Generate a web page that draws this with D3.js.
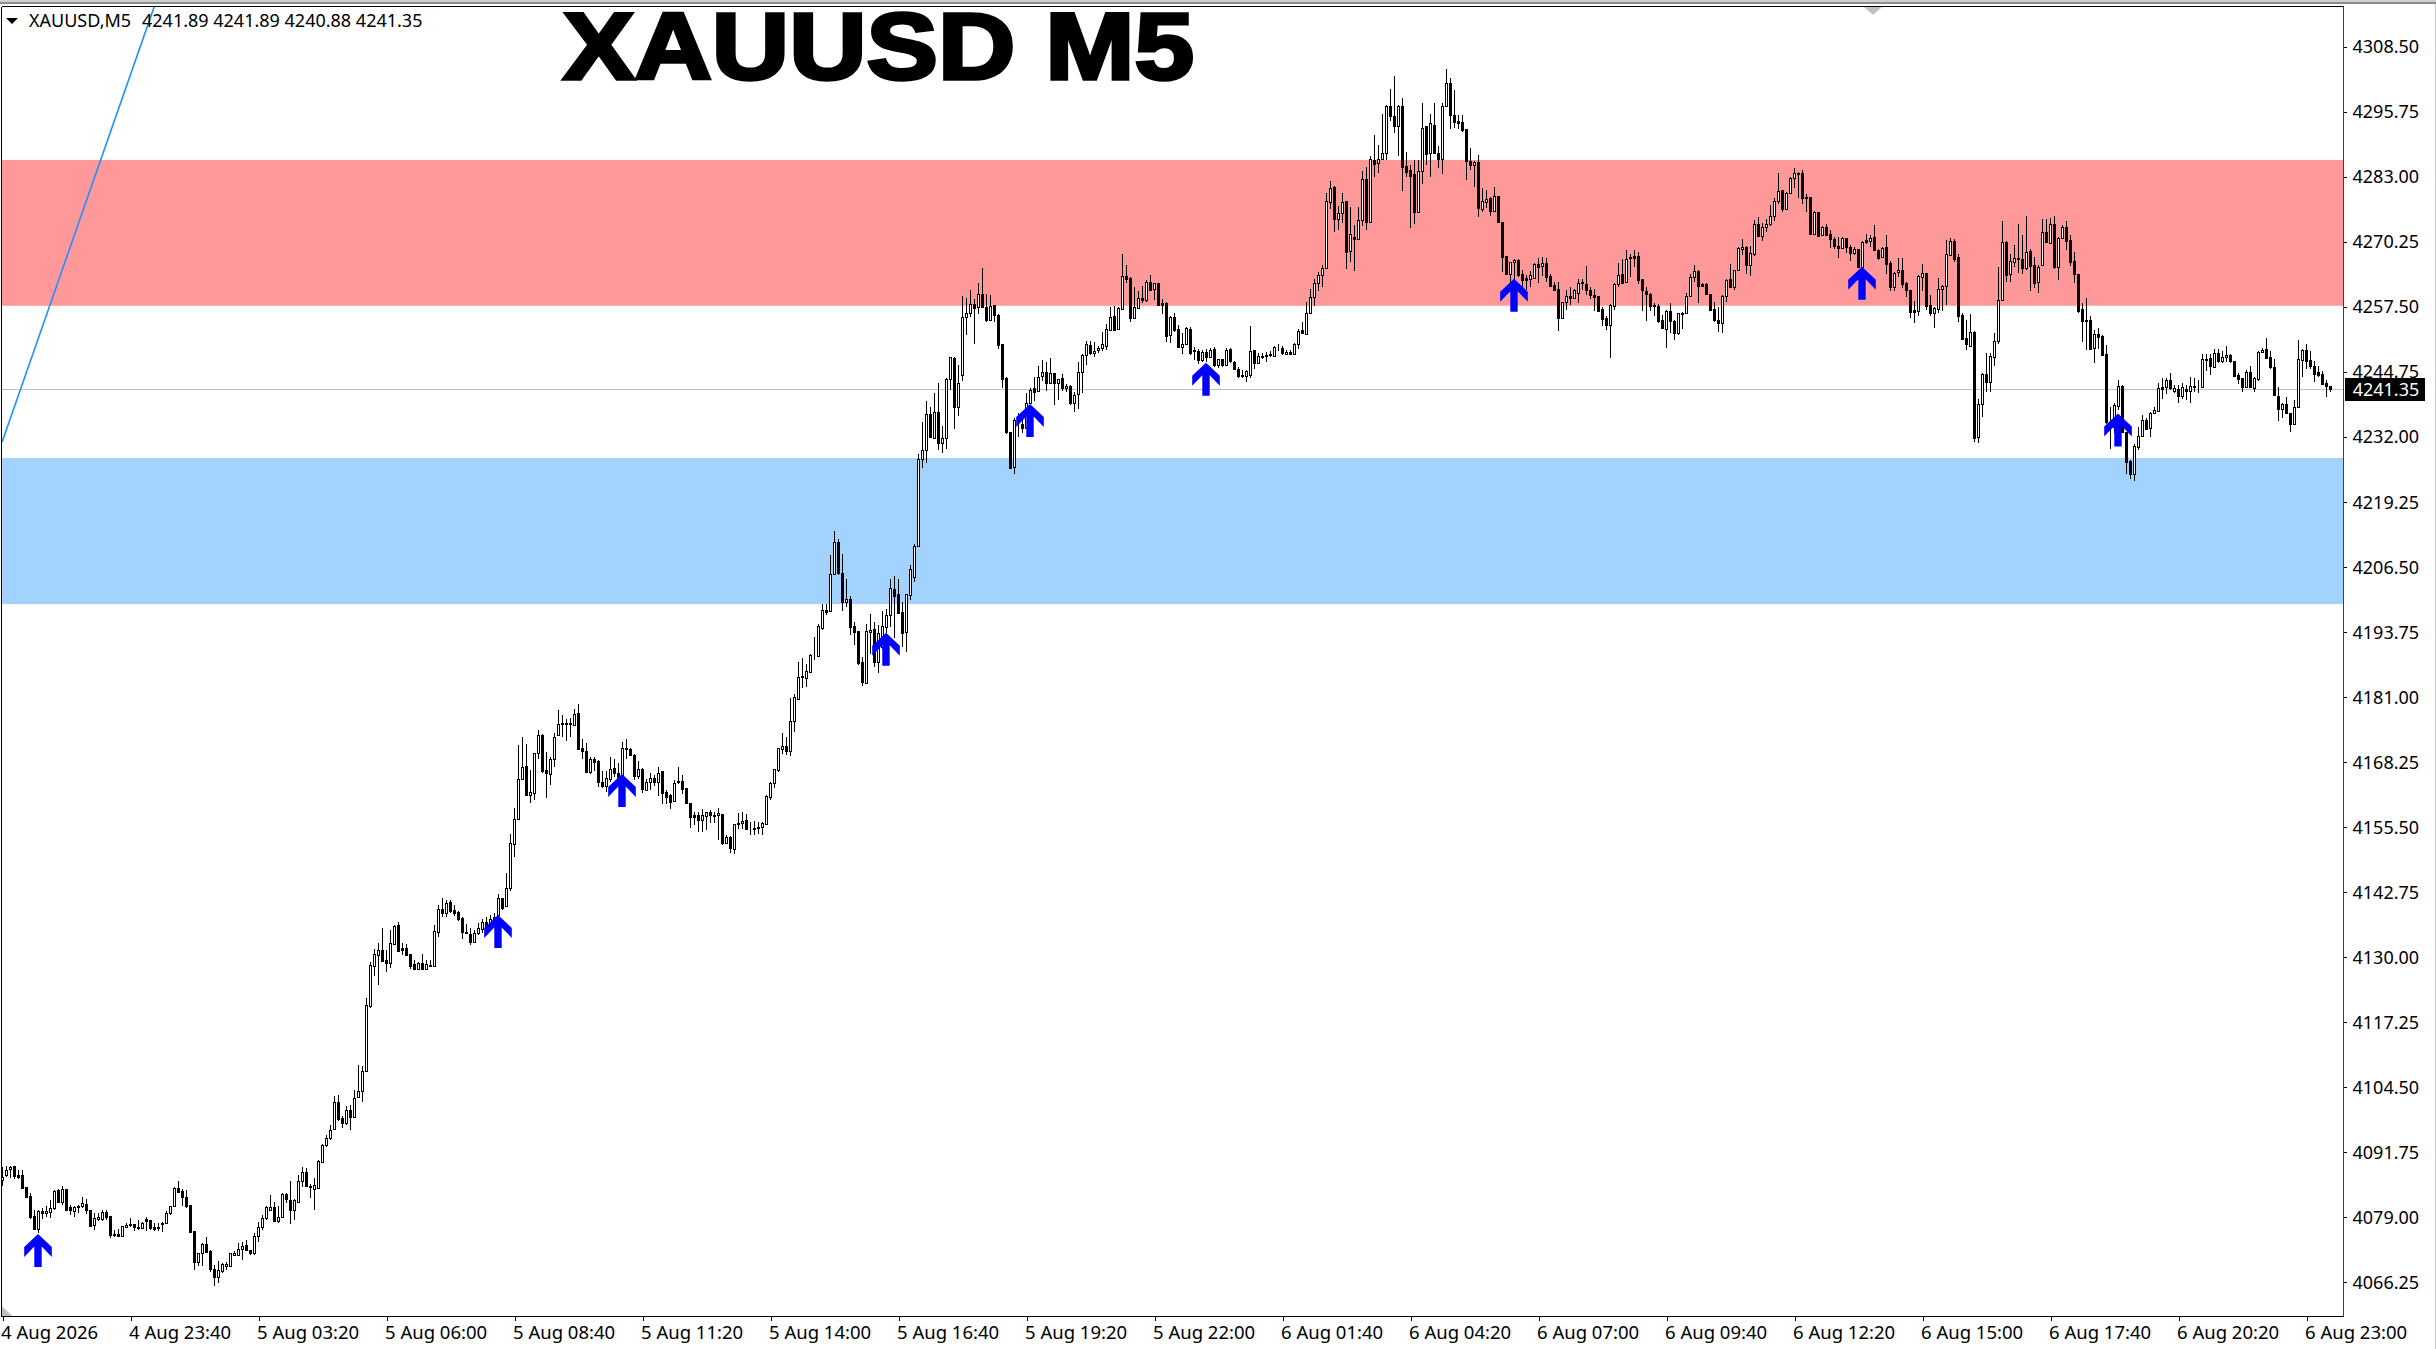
<!DOCTYPE html>
<html><head><meta charset="utf-8">
<style>html,body{margin:0;padding:0;background:#fff;overflow:hidden}svg{display:block}text{font-family:"Noto Sans",sans-serif}</style>
<script src="https://cdn.jsdelivr.net/npm/d3@7"></script></head><body><svg id="c" width="2436" height="1349"></svg>
<script>
const symbolTitle="XAUUSD M5";
const headerName="XAUUSD,M5";
const headerOHLC="4241.89 4241.89 4240.88 4241.35";
const lastPrice=4241.35;
const priceTicks=[4308.5,4295.75,4283,4270.25,4257.5,4244.75,4232,4219.25,4206.5,4193.75,4181,4168.25,4155.5,4142.75,4130,4117.25,4104.5,4091.75,4079,4066.25];
const timeLabels=["4 Aug 2026","4 Aug 23:40","5 Aug 03:20","5 Aug 06:00","5 Aug 08:40","5 Aug 11:20","5 Aug 14:00","5 Aug 16:40","5 Aug 19:20","5 Aug 22:00","6 Aug 01:40","6 Aug 04:20","6 Aug 07:00","6 Aug 09:40","6 Aug 12:20","6 Aug 15:00","6 Aug 17:40","6 Aug 20:20","6 Aug 23:00"];
const barsPerLabel=32;
const supplyZone=[4286.3,4257.7];
const demandZone=[4227.85,4199.2];
const arrowBars=[9,124,155,221,257,301,378,465,529];
const arrowPrices=[4075.7,4138.25,4165.9,4193.6,4238.44,4246.54,4263.0,4265.36,4236.6];
const trendBars=[-0.1,38];
const trendPrices=[4231.0,4316.5];
const highs=[
4088.9,4089.0,4089.0,4089.0,4088.3,4088.3,4085.0,4083.7,4080.4,4080.5,
4080.7,4081.2,4082.4,4084.3,4084.5,4085.1,4084.6,4081.4,4081.2,4081.4,
4083.0,4082.5,4080.5,4079.8,4079.8,4080.4,4080.4,4079.2,4076.5,4076.6,
4077.3,4077.9,4078.8,4077.6,4078.5,4078.1,4079.0,4078.5,4077.8,4077.9,
4078.1,4080.2,4081.2,4085.0,4086.1,4084.5,4084.3,4081.4,4076.3,4072.0,
4074.0,4075.1,4072.6,4069.6,4070.4,4070.1,4070.3,4071.9,4072.4,4073.9,
4074.2,4074.5,4072.6,4075.8,4078.1,4079.4,4081.2,4083.4,4081.9,4081.2,
4083.7,4083.7,4086.0,4082.5,4087.3,4088.8,4088.6,4085.5,4086.6,4090.3,
4093.4,4095.1,4097.0,4102.7,4102.9,4098.8,4100.8,4101.0,4103.9,4108.8,
4108.6,4122.0,4129.0,4131.5,4132.7,4135.6,4131.4,4135.4,4136.3,4136.8,
4132.8,4132.5,4130.6,4129.4,4129.1,4130.6,4129.4,4129.4,4136.3,4140.2,
4141.5,4141.2,4141.2,4140.2,4139.1,4137.8,4136.5,4135.6,4135.4,4136.6,
4137.4,4137.9,4138.2,4138.6,4142.4,4141.5,4146.5,4154.2,4159.3,4171.6,
4173.1,4171.8,4166.7,4170.1,4174.5,4173.7,4170.3,4169.3,4174.0,4178.4,
4177.4,4176.6,4176.8,4178.6,4179.6,4172.8,4171.9,4169.3,4169.3,4168.6,
4166.5,4166.5,4169.3,4168.9,4168.0,4172.1,4172.7,4170.9,4169.8,4168.4,
4167.0,4165.0,4166.0,4165.7,4167.2,4166.4,4162.7,4161.9,4164.7,4167.2,
4165.6,4163.1,4160.3,4158.5,4158.5,4159.1,4158.4,4158.9,4158.4,4159.3,
4158.0,4154.0,4153.7,4156.1,4158.2,4158.5,4158.0,4156.5,4156.7,4156.5,
4156.5,4161.8,4164.4,4166.8,4170.9,4174.0,4173.2,4180.7,4181.6,4187.8,
4188.6,4187.4,4189.4,4192.7,4195.4,4199.3,4199.3,4208.8,4213.5,4211.9,
4209.1,4204.2,4200.8,4195.7,4193.9,4188.8,4195.3,4197.2,4195.7,4195.1,
4197.8,4198.2,4204.1,4204.7,4204.2,4199.7,4201.1,4206.9,4211.0,4228.6,
4234.9,4239.0,4237.9,4240.6,4242.5,4234.1,4243.6,4247.7,4247.6,4246.1,
4259.6,4259.3,4260.8,4259.1,4262.1,4265.2,4260.0,4259.8,4257.8,4256.0,
4250.3,4243.7,4233.0,4235.6,4236.6,4235.9,4240.5,4241.6,4243.8,4245.9,
4247.0,4246.7,4247.4,4244.6,4243.4,4244.3,4242.3,4242.1,4240.8,4246.6,
4248.2,4250.7,4250.8,4250.6,4249.9,4252.5,4254.2,4257.4,4257.6,4257.5,
4267.8,4265.7,4263.3,4261.4,4260.6,4261.6,4262.7,4263.7,4262.2,4262.2,
4259.1,4258.4,4255.7,4256.2,4253.9,4252.3,4253.6,4253.5,4249.7,4249.3,
4249.0,4249.3,4249.5,4249.7,4247.3,4247.3,4249.5,4249.4,4246.9,4245.7,
4245.1,4245.1,4253.7,4249.1,4248.4,4248.4,4248.7,4248.8,4249.8,4250.3,
4249.8,4249.0,4249.1,4250.4,4253.1,4254.6,4258.5,4261.0,4262.9,4264.3,
4265.6,4279.8,4282.2,4281.1,4277.3,4279.8,4278.2,4277.1,4273.5,4277.0,
4284.2,4285.0,4287.0,4291.2,4289.2,4295.4,4297.1,4300.3,4302.8,4297.1,
4298.4,4287.9,4285.3,4286.2,4286.3,4297.5,4293.0,4295.4,4297.5,4289.0,
4297.4,4304.1,4302.3,4300.1,4295.1,4295.1,4292.3,4288.6,4286.0,4287.3,
4280.7,4280.4,4279.0,4280.9,4279.2,4274.1,4267.5,4266.3,4266.8,4266.8,
4264.7,4263.7,4264.6,4266.0,4267.0,4267.2,4267.1,4263.9,4262.3,4262.4,
4258.5,4260.8,4261.3,4260.9,4262.9,4262.9,4265.5,4261.4,4260.9,4259.6,
4257.5,4255.6,4258.0,4262.1,4266.0,4266.8,4268.6,4267.9,4268.6,4268.3,
4263.0,4261.4,4260.3,4258.3,4258.0,4255.9,4256.9,4258.2,4254.9,4256.3,
4256.5,4260.3,4263.9,4265.7,4264.8,4262.2,4262.1,4260.1,4258.5,4257.4,
4259.8,4262.9,4265.9,4264.8,4269.2,4270.7,4269.4,4269.4,4274.5,4275.2,
4274.0,4274.8,4277.5,4278.9,4283.8,4280.5,4280.0,4283.0,4284.8,4284.0,
4284.3,4279.6,4279.1,4276.2,4276.1,4273.3,4273.7,4272.5,4271.1,4271.1,
4271.1,4270.9,4269.6,4269.2,4268.9,4270.5,4271.8,4271.6,4273.5,4268.8,
4269.3,4271.6,4266.5,4264.4,4267.1,4267.0,4262.4,4260.8,4258.7,4263.7,
4265.9,4264.2,4259.8,4257.4,4263.1,4261.8,4270.6,4270.9,4270.7,4267.8,
4256.2,4254.9,4256.1,4252.7,4239.5,4244.6,4248.4,4248.5,4252.3,4265.4,
4274.3,4270.5,4267.9,4269.6,4273.7,4271.6,4275.3,4268.9,4267.3,4265.6,
4274.8,4274.8,4274.9,4275.3,4271.1,4273.5,4274.4,4271.6,4268.3,4264.0,
4258.3,4259.3,4255.6,4252.9,4253.3,4251.9,4250.1,4237.9,4238.6,4243.1,
4242.2,4233.0,4227.4,4230.6,4234.0,4236.2,4235.6,4236.9,4237.9,4242.5,
4243.5,4243.5,4244.6,4242.1,4242.1,4242.5,4242.1,4243.8,4243.5,4243.1,
4248.2,4248.2,4248.2,4249.2,4249.3,4248.9,4249.8,4248.2,4246.8,4244.6,
4243.6,4245.1,4245.9,4243.7,4248.9,4249.4,4251.3,4248.9,4247.2,4241.8,
4238.7,4239.9,4236.7,4239.2,4250.9,4249.2,4250.2,4248.9,4246.9,4245.8,
4245.0,4243.1,4241.89];
const lows=[
4085.1,4086.9,4086.6,4086.4,4086.4,4084.5,4083.0,4078.6,4076.4,4075.8,
4078.6,4079.1,4078.8,4080.4,4081.9,4081.4,4080.5,4079.4,4079.0,4079.8,
4080.7,4079.6,4077.0,4076.4,4078.3,4078.3,4078.5,4074.9,4075.1,4075.1,
4075.4,4077.0,4077.0,4076.2,4076.4,4076.6,4076.2,4076.5,4076.2,4076.2,
4076.0,4077.7,4079.4,4080.9,4083.8,4081.2,4080.7,4076.0,4068.6,4069.4,
4069.4,4072.0,4068.3,4065.5,4066.0,4068.0,4068.6,4069.4,4071.4,4071.4,
4070.6,4072.4,4071.6,4071.6,4074.2,4076.4,4078.5,4080.4,4078.1,4077.9,
4078.8,4081.7,4077.7,4078.5,4082.0,4085.0,4085.0,4082.7,4080.4,4084.5,
4089.6,4092.8,4094.1,4096.2,4097.8,4096.5,4097.1,4096.1,4098.6,4102.5,
4101.6,4107.7,4120.1,4126.3,4124.5,4129.0,4127.1,4127.8,4132.4,4130.9,
4130.4,4130.2,4127.7,4127.6,4127.5,4127.6,4127.6,4128.0,4128.2,4134.0,
4137.9,4137.8,4138.7,4138.0,4137.1,4133.6,4134.5,4132.3,4132.8,4134.3,
4134.8,4135.6,4136.3,4136.7,4138.0,4139.3,4139.9,4143.0,4149.7,4156.9,
4165.0,4161.6,4160.3,4160.8,4168.9,4166.1,4161.1,4163.7,4167.2,4173.3,
4173.1,4172.4,4173.2,4175.3,4170.6,4168.9,4166.3,4165.9,4166.5,4163.4,
4163.1,4162.4,4164.4,4165.4,4165.0,4165.7,4168.9,4169.4,4164.8,4165.0,
4162.2,4162.6,4162.7,4163.5,4161.6,4160.0,4160.0,4159.1,4160.4,4164.0,
4161.9,4160.0,4155.3,4155.9,4154.6,4154.6,4155.0,4156.3,4156.2,4153.0,
4151.9,4152.1,4150.4,4150.2,4155.2,4155.2,4154.9,4153.9,4154.0,4154.2,
4153.9,4155.9,4160.8,4163.1,4166.3,4169.8,4169.6,4169.4,4174.2,4180.6,
4182.8,4183.0,4185.7,4188.2,4188.9,4194.1,4197.1,4197.7,4205.2,4205.0,
4197.9,4198.6,4193.1,4191.2,4187.2,4183.2,4183.8,4189.5,4186.9,4185.7,
4190.5,4193.5,4194.8,4192.6,4197.2,4190.8,4189.9,4200.1,4203.6,4210.4,
4225.8,4226.8,4231.7,4231.5,4229.5,4228.9,4229.7,4241.2,4233.5,4236.1,
4243.0,4252.0,4255.5,4250.2,4256.1,4257.2,4254.6,4254.9,4254.6,4249.3,
4241.5,4232.5,4225.7,4224.8,4232.0,4232.7,4233.8,4238.7,4239.1,4240.8,
4243.0,4241.0,4242.3,4238.2,4239.2,4241.0,4240.8,4238.2,4236.9,4237.4,
4240.6,4246.1,4248.0,4247.6,4248.5,4248.9,4249.1,4252.8,4252.8,4252.9,
4257.0,4262.1,4254.6,4255.2,4257.0,4258.2,4258.5,4260.6,4258.8,4257.6,
4256.1,4250.6,4250.4,4252.6,4249.5,4248.2,4250.0,4248.0,4247.0,4246.3,
4246.7,4246.7,4247.6,4245.6,4245.5,4245.6,4245.9,4246.5,4245.1,4243.6,
4243.6,4242.8,4243.6,4245.3,4246.3,4247.2,4246.7,4247.6,4247.7,4248.9,
4248.0,4248.0,4248.0,4248.0,4249.2,4252.2,4252.0,4256.1,4257.6,4260.5,
4261.3,4265.0,4276.6,4272.2,4272.6,4273.9,4265.0,4266.3,4264.6,4270.6,
4273.3,4272.6,4273.9,4283.0,4283.8,4286.2,4286.2,4294.0,4291.6,4287.0,
4280.3,4283.0,4273.0,4273.7,4276.0,4281.6,4285.3,4283.0,4287.5,4284.8,
4283.5,4296.9,4292.3,4292.5,4292.3,4291.8,4282.4,4284.3,4280.9,4275.2,
4276.1,4276.8,4275.3,4276.1,4274.0,4264.3,4263.7,4262.4,4262.1,4263.4,
4260.8,4260.7,4261.3,4263.0,4262.2,4263.5,4262.4,4261.4,4260.5,4252.8,
4255.2,4256.9,4257.9,4259.0,4258.3,4260.7,4259.8,4259.0,4256.7,4256.5,
4253.7,4253.0,4247.4,4256.9,4261.3,4262.0,4262.2,4263.4,4265.4,4261.9,
4256.7,4254.8,4256.7,4255.6,4254.4,4253.1,4249.5,4252.3,4251.0,4252.0,
4253.1,4256.0,4259.5,4262.4,4258.3,4261.3,4259.8,4256.7,4254.6,4252.6,
4252.4,4258.5,4261.3,4260.7,4264.6,4267.6,4263.9,4263.5,4267.5,4271.1,
4270.5,4272.2,4273.3,4274.4,4277.6,4276.1,4276.5,4279.7,4280.7,4278.8,
4277.6,4276.1,4271.6,4271.6,4271.2,4271.5,4271.4,4269.1,4268.9,4267.1,
4268.9,4268.0,4266.5,4267.6,4265.2,4265.2,4269.8,4269.3,4268.5,4266.7,
4267.0,4264.0,4260.6,4260.6,4263.4,4261.1,4259.5,4255.4,4254.4,4255.6,
4260.5,4256.9,4255.6,4253.4,4256.2,4256.7,4257.8,4267.5,4266.3,4254.6,
4251.1,4249.0,4249.7,4231.0,4230.8,4235.9,4240.8,4240.8,4245.8,4250.2,
4258.7,4262.4,4262.4,4265.4,4264.2,4263.9,4264.8,4260.6,4261.1,4260.3,
4265.5,4270.1,4269.9,4265.0,4262.7,4270.7,4268.6,4265.5,4262.1,4256.2,
4250.6,4249.0,4249.1,4246.5,4249.3,4247.8,4234.6,4229.7,4232.7,4237.3,
4232.7,4224.7,4223.7,4223.4,4229.4,4231.9,4233.5,4231.9,4236.5,4237.0,
4239.5,4240.4,4241.2,4240.5,4238.7,4239.5,4239.2,4238.6,4240.7,4240.5,
4241.8,4245.0,4244.1,4245.5,4246.4,4246.4,4246.7,4246.5,4243.7,4242.4,
4240.7,4241.6,4241.6,4240.7,4243.0,4248.4,4247.3,4245.4,4240.1,4235.2,
4235.6,4236.5,4233.0,4234.5,4237.6,4243.8,4245.4,4245.4,4242.7,4243.8,
4242.2,4239.9,4240.88];
const opens=[
4086.3,4087.2,4088.4,4089.0,4087.3,4087.3,4085.0,4083.2,4079.2,4076.6,
4080.2,4079.8,4080.1,4080.7,4084.3,4081.9,4084.5,4080.9,4080.2,4081.2,
4081.1,4081.6,4080.5,4077.5,4078.6,4078.6,4080.0,4079.2,4075.5,4075.6,
4075.4,4077.1,4077.5,4077.6,4077.1,4076.8,4078.6,4078.5,4077.0,4076.8,
4077.6,4077.9,4079.9,4081.1,4084.7,4084.2,4082.9,4081.4,4076.3,4070.3,
4071.9,4073.7,4072.4,4068.8,4067.3,4068.5,4069.4,4069.4,4071.6,4071.6,
4072.8,4073.5,4072.6,4071.9,4075.3,4077.0,4078.8,4080.4,4080.9,4078.3,
4079.1,4083.5,4082.4,4080.4,4082.0,4086.0,4087.9,4085.1,4084.6,4084.8,
4089.9,4093.1,4094.5,4096.2,4101.5,4098.4,4097.5,4100.1,4098.6,4102.5,
4103.8,4107.7,4120.4,4128.2,4130.5,4131.4,4129.4,4128.9,4132.5,4136.3,
4131.7,4131.7,4130.6,4128.6,4127.6,4128.8,4127.7,4128.3,4128.2,4135.0,
4139.5,4138.7,4140.7,4139.2,4138.8,4137.6,4135.0,4134.6,4133.0,4134.8,
4135.5,4136.8,4136.6,4136.9,4138.2,4141.5,4140.0,4143.5,4152.1,4157.0,
4165.0,4167.4,4161.7,4162.2,4170.0,4173.5,4166.7,4165.8,4168.8,4173.5,
4175.7,4175.7,4175.7,4175.5,4177.8,4170.9,4170.5,4166.3,4168.9,4168.4,
4164.4,4163.6,4165.0,4167.0,4166.1,4165.7,4170.9,4170.7,4169.7,4165.5,
4166.8,4162.7,4164.4,4165.2,4164.4,4166.4,4162.3,4161.8,4160.6,4164.6,
4164.6,4163.1,4160.3,4157.8,4157.8,4156.9,4157.7,4158.4,4157.8,4157.8,
4158.0,4152.4,4153.5,4151.2,4156.2,4156.3,4156.9,4155.4,4155.4,4155.5,
4155.5,4156.1,4161.4,4164.2,4166.7,4170.8,4171.4,4170.4,4176.2,4180.6,
4185.2,4184.8,4185.9,4189.1,4189.1,4194.6,4198.0,4197.8,4205.2,4211.3,
4205.4,4199.7,4200.3,4195.0,4193.9,4187.8,4183.8,4193.8,4194.3,4187.9,
4190.8,4194.8,4197.1,4202.1,4201.1,4197.6,4193.8,4201.0,4204.6,4210.6,
4227.7,4229.5,4236.4,4231.8,4236.8,4230.8,4231.7,4243.4,4247.4,4237.9,
4244.2,4255.5,4256.3,4258.0,4257.4,4260.1,4257.4,4255.0,4257.8,4255.9,
4250.2,4243.5,4233.0,4226.1,4235.4,4234.5,4233.8,4238.7,4241.5,4240.9,
4243.9,4244.8,4242.5,4244.6,4242.5,4243.5,4241.5,4242.0,4238.7,4240.4,
4244.8,4248.1,4250.1,4248.4,4249.1,4249.5,4249.9,4252.9,4255.7,4253.2,
4257.1,4263.6,4263.1,4255.4,4257.2,4259.3,4258.8,4262.3,4260.9,4262.1,
4258.2,4258.3,4251.9,4255.5,4253.1,4249.7,4250.2,4253.2,4249.0,4248.9,
4247.0,4248.7,4247.7,4249.3,4246.1,4247.2,4246.1,4249.3,4246.7,4245.3,
4244.1,4244.0,4244.2,4249.1,4246.4,4247.8,4247.9,4248.0,4247.8,4249.4,
4249.5,4248.2,4248.7,4248.2,4250.3,4252.9,4252.1,4256.2,4259.5,4262.2,
4263.7,4265.2,4278.1,4280.9,4274.8,4275.8,4278.2,4268.4,4271.2,4270.7,
4274.5,4282.5,4274.1,4286.2,4285.6,4286.4,4287.6,4296.9,4294.9,4293.0,
4296.9,4285.1,4284.3,4283.5,4276.1,4284.2,4293.0,4287.6,4293.1,4287.6,
4286.4,4296.9,4301.3,4295.2,4293.9,4293.7,4292.3,4286.0,4285.4,4285.9,
4276.7,4278.1,4278.8,4276.2,4279.2,4274.1,4267.5,4263.9,4266.2,4266.7,
4263.9,4263.1,4263.0,4263.1,4265.9,4265.5,4266.0,4263.5,4261.8,4260.9,
4255.4,4258.5,4259.7,4259.2,4260.3,4262.4,4262.0,4260.7,4259.9,4259.6,
4257.0,4255.3,4254.0,4257.7,4262.0,4263.9,4262.4,4267.3,4267.4,4267.5,
4262.9,4260.5,4260.1,4257.8,4257.6,4255.0,4253.1,4256.7,4254.8,4252.4,
4256.2,4256.2,4259.6,4263.3,4264.5,4261.9,4261.9,4260.0,4257.0,4255.0,
4254.3,4259.7,4262.9,4261.4,4264.7,4268.9,4269.3,4265.7,4267.9,4273.7,
4271.4,4273.2,4273.7,4275.3,4278.3,4280.4,4276.6,4279.9,4282.7,4283.7,
4283.7,4279.0,4279.0,4271.8,4276.1,4271.6,4273.1,4271.7,4270.7,4269.5,
4269.1,4270.9,4269.3,4268.1,4268.8,4265.4,4270.6,4270.5,4271.1,4268.6,
4267.3,4269.2,4266.0,4261.4,4264.4,4264.7,4262.1,4260.8,4256.9,4256.7,
4263.3,4264.1,4257.8,4256.3,4257.0,4260.9,4261.6,4267.6,4270.4,4267.3,
4255.9,4251.3,4249.9,4252.5,4231.9,4238.4,4244.4,4242.8,4247.7,4250.8,
4258.8,4270.3,4264.0,4266.3,4267.1,4266.9,4265.1,4268.4,4265.6,4262.4,
4265.7,4272.2,4270.1,4273.7,4265.4,4270.9,4273.1,4270.6,4266.5,4264.0,
4257.0,4255.0,4255.0,4249.4,4252.2,4251.8,4248.2,4234.0,4234.0,4238.0,
4242.0,4233.0,4227.3,4224.7,4230.1,4232.2,4235.3,4233.7,4236.6,4237.1,
4241.7,4241.7,4243.1,4240.9,4241.3,4240.0,4241.3,4240.9,4241.8,4242.0,
4241.8,4247.3,4247.4,4245.6,4248.5,4246.8,4247.7,4248.0,4246.8,4244.1,
4243.5,4241.7,4244.8,4241.6,4243.3,4248.6,4249.2,4247.7,4245.6,4240.1,
4237.4,4238.4,4236.6,4234.6,4237.8,4247.1,4249.0,4247.1,4245.9,4244.7,
4244.3,4242.5,4241.89];
const closes=[
4086.9,4088.3,4088.9,4087.1,4086.9,4084.7,4083.0,4079.0,4076.6,4080.2,
4079.8,4080.2,4080.7,4084.2,4081.9,4084.5,4080.5,4080.5,4080.9,4080.9,
4081.7,4080.4,4077.3,4078.8,4079.0,4080.1,4079.1,4075.5,4075.6,4075.4,
4077.3,4077.4,4077.7,4077.1,4076.8,4077.9,4078.3,4076.8,4076.7,4077.1,
4077.9,4079.9,4081.1,4084.7,4084.0,4082.9,4081.2,4076.0,4070.3,4072.0,
4073.7,4072.2,4068.8,4067.3,4068.6,4069.8,4069.8,4071.9,4071.9,4072.8,
4073.4,4072.6,4072.0,4075.3,4077.1,4078.8,4080.9,4080.9,4078.3,4079.1,
4083.5,4082.6,4080.4,4082.4,4086.0,4087.9,4085.1,4084.9,4085.3,4090.0,
4093.2,4094.5,4096.1,4101.5,4098.2,4097.5,4100.1,4098.7,4102.4,4103.7,
4107.7,4120.5,4128.4,4130.6,4131.4,4129.2,4128.9,4132.7,4136.1,4131.1,
4131.4,4130.4,4128.2,4127.7,4128.8,4127.7,4128.6,4128.4,4135.1,4139.5,
4138.7,4140.6,4139.1,4138.7,4137.5,4135.0,4134.8,4132.9,4134.8,4135.6,
4136.8,4135.9,4137.4,4137.8,4141.5,4139.7,4143.5,4152.3,4157.0,4165.0,
4167.2,4161.7,4162.4,4170.1,4173.5,4166.5,4166.0,4168.9,4173.2,4175.6,
4175.8,4175.8,4175.8,4177.6,4170.8,4170.4,4166.3,4168.9,4168.3,4164.4,
4163.6,4165.2,4166.8,4166.1,4165.4,4170.9,4170.7,4169.7,4165.5,4166.8,
4162.9,4164.4,4165.2,4164.4,4166.1,4162.1,4161.4,4160.4,4164.2,4164.3,
4163.0,4160.3,4157.5,4157.5,4156.9,4157.8,4158.4,4157.8,4157.7,4158.2,
4152.3,4153.5,4151.3,4156.0,4156.0,4156.7,4155.2,4155.3,4155.2,4155.4,
4156.2,4161.6,4164.2,4166.8,4170.9,4171.4,4170.4,4176.2,4180.9,4185.0,
4185.0,4186.0,4189.2,4189.0,4194.9,4198.0,4197.7,4205.2,4211.3,4205.4,
4199.7,4200.3,4194.8,4193.8,4187.6,4184.0,4194.0,4194.2,4187.9,4193.6,
4194.9,4197.0,4202.3,4200.8,4197.4,4193.6,4201.1,4206.0,4210.6,4227.6,
4229.5,4236.4,4232.0,4236.8,4230.8,4231.7,4243.3,4247.6,4237.9,4242.5,
4255.5,4256.3,4258.0,4257.2,4260.1,4257.4,4255.0,4257.7,4255.9,4250.1,
4243.4,4233.0,4225.9,4235.4,4235.9,4233.8,4238.7,4241.2,4240.8,4243.8,
4244.8,4242.6,4244.6,4242.5,4243.4,4241.6,4242.0,4238.7,4240.3,4244.8,
4248.1,4250.2,4248.4,4248.9,4249.5,4250.3,4253.1,4255.5,4252.9,4257.2,
4263.6,4263.0,4255.4,4257.5,4259.3,4258.8,4262.3,4260.8,4262.1,4257.8,
4257.8,4251.8,4255.5,4252.9,4249.7,4250.3,4253.3,4248.5,4248.8,4247.0,
4248.7,4247.7,4249.1,4246.1,4247.2,4246.1,4249.1,4246.8,4245.4,4243.9,
4244.0,4244.9,4248.9,4246.4,4247.8,4247.6,4248.1,4248.2,4249.6,4249.5,
4248.4,4248.7,4248.2,4250.2,4252.7,4252.3,4256.2,4259.5,4262.1,4263.7,
4265.2,4278.2,4280.7,4274.8,4275.8,4278.1,4268.3,4271.7,4270.7,4274.6,
4282.5,4274.2,4286.4,4285.5,4286.4,4287.6,4296.9,4294.9,4293.0,4296.9,
4285.0,4284.0,4283.1,4276.1,4284.2,4292.5,4287.5,4293.5,4287.6,4286.5,
4296.9,4301.3,4295.1,4293.7,4293.6,4292.2,4286.0,4285.3,4285.8,4276.8,
4278.3,4278.7,4276.3,4279.3,4274.1,4267.3,4263.9,4266.2,4266.7,4263.7,
4262.7,4262.7,4263.7,4265.8,4265.4,4266.0,4263.4,4261.6,4260.7,4255.4,
4258.4,4259.7,4259.2,4260.7,4262.1,4262.1,4260.8,4259.8,4259.5,4256.7,
4255.2,4254.0,4257.8,4262.0,4263.7,4262.2,4266.8,4267.0,4267.1,4262.8,
4260.7,4260.0,4257.7,4257.6,4254.8,4253.3,4256.7,4254.8,4252.4,4256.2,
4256.0,4259.6,4263.3,4264.6,4261.6,4261.6,4260.0,4256.9,4254.9,4254.3,
4259.7,4262.8,4261.4,4264.7,4269.0,4269.3,4265.7,4268.0,4273.7,4271.4,
4273.2,4273.7,4275.3,4278.3,4280.3,4276.6,4279.9,4282.7,4283.7,4283.5,
4278.9,4278.8,4271.8,4276.1,4271.4,4273.1,4271.6,4270.7,4269.4,4269.1,
4270.9,4269.3,4268.0,4268.8,4265.4,4270.3,4270.3,4270.9,4268.6,4267.0,
4269.1,4265.9,4261.4,4264.2,4264.8,4262.0,4260.7,4256.5,4256.5,4263.5,
4264.1,4257.6,4256.3,4257.3,4260.9,4261.6,4267.8,4270.4,4266.9,4255.7,
4251.2,4250.2,4252.5,4231.8,4238.4,4244.4,4242.8,4247.8,4250.7,4258.9,
4270.3,4263.7,4266.4,4267.0,4266.9,4265.2,4268.2,4265.5,4262.2,4265.4,
4272.1,4270.3,4273.7,4265.4,4270.9,4273.1,4270.5,4266.3,4263.9,4256.6,
4254.8,4254.8,4249.3,4252.1,4251.6,4248.1,4234.9,4235.0,4238.2,4242.0,
4233.0,4227.1,4224.7,4230.3,4232.2,4235.3,4233.6,4236.7,4237.3,4241.6,
4241.4,4243.1,4241.5,4241.5,4240.0,4241.8,4241.0,4242.0,4242.0,4241.9,
4247.2,4247.1,4245.8,4248.4,4246.8,4247.7,4248.0,4246.8,4244.0,4243.4,
4241.7,4244.8,4241.7,4243.5,4248.6,4249.1,4247.5,4245.6,4240.3,4237.5,
4238.4,4236.6,4234.6,4237.8,4247.2,4249.0,4246.9,4245.9,4244.4,4244.2,
4242.4,4241.9,4241.35];

const W=2436,H=1349,L=1.5,R=2343.5,T=6.5,B=1316.5;
const svg=d3.select("#c");
const x=d3.scaleLinear().domain([0,opens.length-1]).range([2.5,2.5+4*(opens.length-1)]);
const y=d3.scaleLinear().domain([4308.5,4066.25]).range([46.7,46.7+242.25*5.1]);

// window chrome
svg.append("rect").attr("x",0).attr("y",0).attr("width",W).attr("height",2).attr("fill","#d0d0d0");
svg.append("rect").attr("x",0).attr("y",2).attr("width",W).attr("height",2).attr("fill","#8c8c8c");
svg.append("rect").attr("x",W-1).attr("y",4).attr("width",1).attr("height",H-4).attr("fill","#c8c8c8");

svg.append("defs").append("clipPath").attr("id","plot").append("rect").attr("x",L).attr("y",T).attr("width",R-L).attr("height",B-T);
const g=svg.append("g").attr("clip-path","url(#plot)");

// zones
[[supplyZone,"#ff9999"],[demandZone,"#a3d2ff"]].forEach(([z,col])=>{
  g.append("rect").attr("x",L).attr("width",R-L).attr("y",y(z[0])).attr("height",y(z[1])-y(z[0])).attr("fill",col);
});
// bid line
g.append("line").attr("x1",L).attr("x2",R).attr("y1",Math.round(y(lastPrice))+.5).attr("y2",Math.round(y(lastPrice))+.5).attr("stroke","#c0c0c0").attr("stroke-width",1);
// trendline
g.append("line").attr("x1",x(trendBars[0])).attr("x2",x(trendBars[1])).attr("y1",y(trendPrices[0])).attr("y2",y(trendPrices[1])).attr("stroke","#1e90ff").attr("stroke-width",1.6);

// candles
const idx=d3.range(opens.length);
const cg=g.append("g").attr("shape-rendering","crispEdges");
cg.selectAll("line").data(idx).join("line")
  .attr("x1",i=>x(i)).attr("x2",i=>x(i))
  .attr("y1",i=>Math.round(y(highs[i]))).attr("y2",i=>Math.round(y(lows[i])))
  .attr("stroke","#000").attr("stroke-width",1);
cg.selectAll("rect").data(idx).join("rect")
  .attr("x",i=>x(i)-1)
  .attr("width",2)
  .attr("y",i=>Math.round(y(Math.max(opens[i],closes[i])))+.5)
  .attr("height",i=>Math.max(0,Math.round(y(Math.min(opens[i],closes[i])))-Math.round(y(Math.max(opens[i],closes[i])))))
  .attr("fill",i=>closes[i]>=opens[i]?"#fff":"#000")
  .attr("stroke","#000").attr("stroke-width",1);

// corner marker
g.append("path").attr("d","M1.5,1306L13,1316.5L1.5,1316.5Z").attr("fill","#c0c0c0");

// arrows
const arrowShape="M0,0L13.8,13L13.8,23L3.7,12.5L3.7,33L-3.7,33L-3.7,12.5L-13.8,23L-13.8,13Z";
g.selectAll("path.arrow").data(arrowBars).join("path").attr("class","arrow")
  .attr("d",arrowShape)
  .attr("transform",(b,i)=>`translate(${x(b)-.5},${y(arrowPrices[i])})`)
  .attr("fill","#0000ff");

// frame
const fr=svg.append("g").attr("shape-rendering","crispEdges").attr("stroke","#000");
fr.append("line").attr("x1",L).attr("x2",R).attr("y1",T).attr("y2",T);
fr.append("line").attr("x1",L).attr("x2",L).attr("y1",T).attr("y2",B);
fr.append("line").attr("x1",R).attr("x2",R).attr("y1",T).attr("y2",B).attr("stroke","#404040");
fr.append("line").attr("x1",L).attr("x2",R).attr("y1",B).attr("y2",B);

// shift marker at top
svg.append("path").attr("d","M1864,7L1882,7L1873,15Z").attr("fill","#c0c0c0");

// axes
const yAxis=d3.axisRight(y).tickValues(priceTicks).tickFormat(d3.format(".2f")).tickSize(3).tickPadding(6);
const ay=svg.append("g").attr("transform",`translate(${R},0)`).call(yAxis);
ay.select(".domain").remove();
ay.selectAll("line").attr("shape-rendering","crispEdges").attr("stroke","#000");
ay.selectAll("text").style("font-family",'"Noto Sans",sans-serif').style("font-size","18px").attr("fill","#000").attr("dy","0.34em");

const tickIdx=timeLabels.map((_,i)=>i*barsPerLabel);
const xAxis=d3.axisBottom(x).tickValues(tickIdx).tickFormat((d,i)=>timeLabels[i]).tickSize(4).tickPadding(5);
const ax=svg.append("g").attr("transform",`translate(0,${B})`).call(xAxis);
ax.select(".domain").remove();
ax.selectAll("line").attr("shape-rendering","crispEdges").attr("stroke","#000");
ax.selectAll("text").style("font-family",'"Noto Sans",sans-serif').style("font-size","18.5px").attr("fill","#000").attr("text-anchor","start").attr("dx",-2);

// price tag
svg.append("rect").attr("x",2345).attr("y",Math.round(y(lastPrice))-11).attr("width",80).attr("height",23).attr("fill","#000");
svg.append("text").attr("x",R+9.2).attr("y",y(lastPrice)).attr("dy","0.36em").style("font-size","18px").attr("fill","#fff").text(d3.format(".2f")(lastPrice));

// header
svg.append("path").attr("d","M6,18L18,18L12,24Z").attr("fill","#000");
svg.append("text").attr("x",29).attr("y",27).style("font-size","18px").attr("fill","#000").text(headerName);
svg.append("text").attr("x",142).attr("y",27).style("font-size","18px").attr("fill","#000").text(headerOHLC);

// title
svg.append("text").attr("x",563).attr("y",78.5).style("font-family",'"Liberation Sans",Arial,sans-serif').style("font-weight",700)
  .style("font-size","94px").attr("fill","#000").attr("stroke","#000").attr("stroke-width",3.5)
  .attr("textLength",631).attr("lengthAdjust","spacingAndGlyphs").text(symbolTitle);
</script></body></html>
